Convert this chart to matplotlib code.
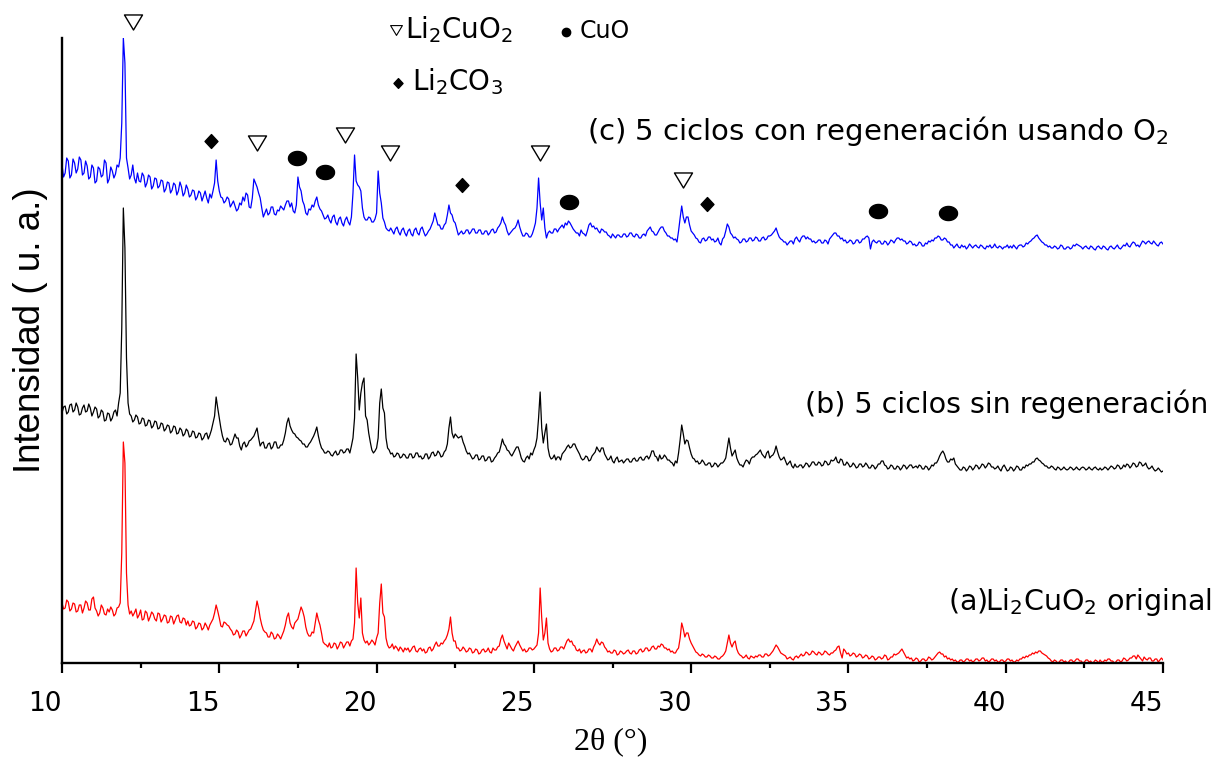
import numpy as np
import matplotlib
matplotlib.use("Agg")
import matplotlib.pyplot as plt
from matplotlib.path import Path

plt.rcParams['font.family'] = ['DejaVu Sans']
plt.rcParams['mathtext.fontset'] = 'custom'
plt.rcParams['mathtext.rm'] = 'DejaVu Sans'
plt.rcParams['mathtext.default'] = 'regular'

# 2-theta scan grid (degrees), 0.05 deg step
two_theta = np.round(np.arange(10.0, 45.0001, 0.05), 2)

# (a) pristine Li2CuO2, one row per 0.5 deg
int_a = [
    60, 54, 55, 63, 61, 52, 54, 60, 59, 51,
    52, 58, 58, 50, 55, 62, 60, 53, 53, 64,
    66, 55, 52, 47, 50, 58, 55, 49, 48, 54,
    51, 56, 53, 47, 49, 55, 56, 60, 110, 221,
    200, 90, 58, 49, 52, 47, 50, 54, 45, 48,
    53, 43, 44, 52, 50, 42, 46, 51, 49, 44,
    42, 50, 49, 41, 44, 48, 47, 40, 41, 47,
    46, 39, 43, 47, 48, 41, 40, 45, 44, 38,
    42, 37, 38, 42, 41, 34, 36, 40, 39, 33,
    35, 40, 37, 33, 38, 41, 44, 50, 58, 52,
    45, 37, 36, 41, 40, 38, 37, 34, 32, 28,
    29, 33, 31, 25, 28, 32, 32, 27, 30, 33,
    34, 38, 42, 52, 62, 55, 45, 38, 33, 31,
    30, 26, 26, 31, 29, 24, 25, 29, 27, 24,
    28, 32, 38, 46, 50, 40, 36, 34, 40, 42,
    44, 50, 56, 52, 46, 36, 30, 27, 27, 31,
    30, 40, 50, 43, 38, 30, 21, 19, 18, 16,
    20, 15, 16, 20, 19, 14, 17, 21, 20, 15,
    18, 21, 21, 17, 22, 24, 40, 95, 60, 45,
    65, 30, 23, 20, 22, 18, 20, 23, 21, 18,
    25, 30, 60, 79, 50, 46, 25, 18, 15, 16,
    19, 14, 17, 15, 12, 16, 14, 11, 15, 13,
    15, 11, 13, 16, 17, 12, 11, 14, 15, 12,
    14, 10, 11, 15, 16, 12, 14, 18, 21, 17,
    17, 20, 19, 22, 24, 28, 34, 46, 30, 22,
    22, 15, 15, 12, 13, 16, 14, 11, 12, 15,
    14, 10, 11, 14, 13, 9, 10, 13, 14, 11,
    12, 15, 11, 10, 15, 13, 13, 16, 17, 24,
    28, 22, 18, 14, 20, 17, 14, 12, 16, 19,
    22, 18, 15, 12, 14, 11, 12, 15, 15, 13,
    14, 16, 18, 30, 75, 45, 23, 30, 45, 20,
    14, 11, 12, 15, 15, 12, 13, 16, 16, 14,
    18, 22, 24, 21, 22, 18, 17, 13, 12, 14,
    10, 12, 13, 10, 11, 14, 14, 11, 16, 19,
    24, 20, 18, 21, 20, 16, 14, 11, 12, 10,
    10, 13, 12, 8, 9, 12, 11, 9, 10, 12,
    13, 10, 9, 12, 12, 9, 10, 13, 14, 11,
    12, 15, 15, 12, 13, 16, 17, 14, 14, 17,
    16, 19, 18, 15, 15, 13, 14, 11, 12, 10,
    10, 13, 15, 25, 40, 34, 26, 30, 30, 24,
    20, 17, 14, 11, 10, 8, 7, 9, 8, 6,
    6, 8, 7, 5, 5, 7, 6, 4, 4, 6,
    7, 9, 12, 20, 28, 20, 16, 20, 22, 14,
    10, 8, 7, 5, 6, 8, 5, 4, 7, 6,
    5, 7, 6, 8, 8, 6, 6, 9, 9, 7,
    8, 10, 12, 15, 18, 16, 13, 10, 9, 8,
    7, 4, 5, 6, 4, 3, 6, 7, 5, 7,
    9, 7, 8, 11, 10, 8, 9, 12, 11, 9,
    8, 11, 10, 8, 9, 12, 11, 9, 8, 10,
    10, 12, 13, 16, 17, 10, 5, 14, 12, 9,
    10, 7, 8, 10, 9, 6, 7, 9, 8, 5,
    6, 8, 7, 4, 5, 7, 6, 3, 4, 6,
    6, 4, 5, 8, 7, 3, 4, 6, 6, 9,
    8, 9, 10, 12, 14, 11, 8, 5, 6, 4,
    5, 2, 3, 5, 4, 1, 2, 4, 4, 2,
    3, 6, 5, 3, 4, 6, 8, 10, 11, 9,
    9, 6, 7, 4, 5, 3, 4, 2, 3, 1,
    1, 3, 3, 1, 2, 4, 4, 2, 3, 1,
    2, 4, 4, 2, 3, 5, 5, 2, 3, 1,
    2, 4, 4, 2, 3, 1, 1, 3, 3, 1,
    2, 4, 4, 2, 3, 1, 1, 3, 2, 4,
    4, 6, 5, 7, 6, 8, 8, 10, 9, 11,
    10, 12, 12, 10, 9, 8, 7, 5, 4, 2,
    1, 3, 2, 0, 1, 3, 3, 1, 2, 0,
    1, 3, 3, 1, 2, 4, 4, 2, 2, 0,
    1, 3, 3, 1, 2, 0, 1, 3, 2, 0,
    3, 1, 1, 3, 2, 4, 4, 2, 2, 0,
    1, 3, 3, 1, 2, 5, 4, 2, 3, 5,
    5, 7, 7, 4, 8, 6, 4, 2, 6, 4,
    3, 5, 5, 2, 2, 4, 4, 1, 3, 5,
    3,
]

# (b) after 5 cycles without regeneration
int_b = [
    65, 71, 72, 64, 66, 73, 74, 66, 68, 75,
    71, 63, 64, 70, 73, 66, 67, 74, 70, 62,
    66, 71, 69, 60, 62, 68, 66, 57, 58, 65,
    64, 57, 60, 66, 68, 62, 75, 85, 150, 270,
    230, 120, 75, 64, 62, 56, 58, 63, 61, 54,
    55, 60, 59, 52, 53, 58, 57, 50, 52, 57,
    56, 49, 50, 55, 54, 47, 49, 53, 52, 45,
    47, 52, 51, 44, 45, 50, 48, 42, 44, 49,
    47, 41, 42, 47, 46, 40, 41, 45, 44, 38,
    40, 44, 45, 39, 43, 48, 55, 62, 81, 70,
    60, 50, 42, 37, 36, 40, 38, 33, 34, 39,
    44, 40, 40, 32, 28, 34, 36, 31, 33, 37,
    38, 40, 42, 46, 50, 40, 32, 35, 36, 30,
    30, 34, 35, 29, 31, 36, 36, 30, 30, 33,
    33, 38, 45, 55, 60, 52, 48, 45, 44, 41,
    40, 38, 37, 34, 34, 31, 31, 34, 36, 39,
    42, 46, 51, 42, 35, 30, 28, 25, 25, 27,
    26, 23, 22, 25, 27, 23, 24, 28, 28, 25,
    26, 29, 29, 25, 32, 40, 60, 124, 100, 68,
    85, 95, 100, 62, 58, 45, 36, 28, 25, 27,
    30, 40, 75, 89, 70, 65, 40, 30, 28, 24,
    25, 21, 22, 25, 24, 20, 21, 24, 23, 20,
    20, 24, 24, 20, 21, 25, 25, 21, 22, 19,
    20, 24, 24, 19, 21, 25, 26, 22, 23, 27,
    25, 21, 22, 26, 28, 34, 50, 61, 45, 40,
    44, 42, 40, 41, 42, 36, 32, 27, 24, 25,
    22, 19, 20, 23, 23, 18, 19, 22, 22, 17,
    18, 21, 21, 16, 17, 20, 22, 25, 26, 32,
    39, 34, 32, 28, 27, 24, 22, 25, 28, 31,
    31, 26, 20, 17, 16, 20, 22, 19, 25, 23,
    28, 32, 40, 60, 86, 50, 35, 45, 54, 30,
    22, 19, 20, 23, 18, 21, 21, 18, 24, 26,
    28, 31, 33, 30, 31, 34, 34, 30, 27, 24,
    20, 18, 19, 22, 21, 17, 18, 22, 24, 26,
    31, 28, 26, 30, 30, 24, 21, 18, 19, 22,
    17, 15, 19, 21, 16, 17, 18, 15, 17, 19,
    19, 16, 16, 19, 20, 17, 17, 20, 21, 18,
    18, 21, 22, 19, 22, 27, 27, 22, 21, 17,
    23, 19, 20, 23, 21, 18, 18, 16, 15, 12,
    17, 15, 25, 38, 53, 44, 34, 38, 37, 30,
    24, 20, 19, 16, 17, 14, 15, 18, 16, 13,
    13, 15, 15, 11, 12, 15, 14, 11, 13, 15,
    15, 17, 20, 30, 40, 30, 22, 25, 28, 20,
    16, 13, 13, 11, 15, 18, 17, 14, 19, 21,
    21, 23, 24, 26, 28, 24, 22, 20, 25, 27,
    20, 22, 23, 26, 32, 26, 21, 18, 19, 21,
    17, 13, 15, 17, 12, 10, 14, 11, 11, 13,
    13, 10, 12, 15, 14, 11, 13, 16, 16, 13,
    13, 16, 15, 12, 13, 17, 16, 13, 14, 18,
    17, 18, 21, 16, 15, 19, 18, 13, 13, 16,
    14, 11, 12, 15, 13, 10, 11, 14, 14, 11,
    12, 15, 13, 10, 10, 13, 12, 9, 11, 14,
    14, 17, 17, 13, 12, 9, 10, 13, 12, 9,
    9, 12, 11, 8, 10, 13, 12, 9, 11, 13,
    13, 10, 11, 12, 10, 13, 12, 9, 9, 12,
    11, 8, 10, 13, 12, 15, 15, 18, 22, 25,
    27, 24, 19, 16, 16, 19, 18, 20, 14, 12,
    10, 8, 8, 11, 10, 7, 9, 12, 11, 8,
    10, 13, 12, 9, 11, 14, 13, 10, 12, 15,
    14, 11, 11, 9, 10, 12, 9, 7, 11, 13,
    10, 7, 8, 11, 10, 7, 9, 12, 11, 8,
    8, 11, 10, 13, 12, 14, 14, 16, 16, 19,
    20, 18, 17, 15, 14, 12, 12, 10, 10, 12,
    11, 9, 8, 11, 10, 8, 9, 11, 9, 8,
    9, 11, 10, 8, 9, 11, 9, 8, 10, 11,
    10, 8, 9, 11, 9, 8, 10, 11, 9, 8,
    10, 8, 9, 11, 10, 8, 10, 12, 11, 9,
    10, 13, 12, 9, 10, 13, 11, 14, 13, 10,
    12, 15, 14, 11, 12, 16, 15, 12, 13, 15,
    11, 9, 10, 12, 9, 7, 8, 10, 8, 6,
    7,
]

# (c) after 5 cycles with O2 regeneration
int_c = [
    88, 76, 80, 95, 92, 75, 78, 94, 90, 80,
    84, 96, 93, 78, 80, 92, 87, 74, 76, 88,
    85, 70, 72, 86, 84, 76, 78, 93, 90, 70,
    74, 86, 82, 75, 79, 88, 86, 95, 130, 215,
    190, 95, 85, 74, 78, 88, 75, 70, 80, 72,
    71, 80, 77, 66, 70, 78, 76, 64, 67, 75,
    74, 65, 67, 73, 72, 61, 64, 71, 70, 60,
    63, 70, 68, 58, 62, 71, 66, 57, 60, 68,
    64, 56, 58, 63, 62, 53, 56, 62, 60, 52,
    57, 62, 55, 50, 59, 55, 62, 70, 93, 72,
    62, 56, 55, 50, 52, 56, 54, 46, 49, 52,
    47, 42, 44, 50, 48, 56, 52, 60, 58, 46,
    45, 55, 74, 70, 66, 60, 55, 45, 36, 40,
    44, 38, 40, 46, 46, 39, 38, 43, 42, 47,
    45, 43, 48, 52, 52, 46, 50, 42, 40, 48,
    76, 66, 62, 52, 48, 40, 38, 44, 43, 48,
    46, 52, 56, 48, 44, 42, 38, 34, 35, 38,
    33, 30, 36, 38, 31, 28, 34, 36, 30, 27,
    33, 36, 31, 28, 36, 60, 98, 72, 68, 66,
    62, 45, 36, 33, 33, 36, 35, 31, 31, 34,
    40, 82, 60, 50, 35, 31, 25, 23, 22, 25,
    22, 19, 24, 26, 21, 18, 23, 25, 20, 17,
    22, 24, 19, 17, 23, 25, 20, 18, 24, 26,
    21, 17, 19, 22, 24, 28, 32, 40, 34, 28,
    28, 24, 24, 28, 30, 38, 48, 40, 38, 32,
    30, 24, 18, 20, 22, 19, 20, 23, 23, 19,
    21, 24, 24, 20, 20, 23, 23, 19, 19, 22,
    22, 18, 20, 23, 24, 20, 21, 25, 27, 30,
    36, 31, 28, 22, 18, 20, 22, 24, 25, 28,
    33, 26, 21, 17, 17, 20, 19, 16, 16, 19,
    24, 30, 45, 75, 50, 33, 45, 25, 15, 20,
    22, 20, 20, 24, 24, 21, 24, 26, 28, 25,
    30, 28, 32, 30, 27, 24, 22, 20, 20, 17,
    23, 20, 19, 17, 22, 28, 30, 26, 27, 24,
    25, 22, 20, 24, 23, 21, 21, 18, 17, 15,
    19, 17, 15, 18, 18, 16, 16, 19, 19, 16,
    17, 20, 20, 17, 16, 19, 18, 15, 15, 18,
    19, 17, 22, 24, 26, 22, 21, 18, 18, 21,
    24, 26, 26, 22, 20, 17, 17, 15, 15, 13,
    14, 11, 22, 35, 47, 36, 30, 36, 36, 28,
    22, 20, 18, 15, 14, 11, 10, 14, 15, 12,
    13, 16, 16, 13, 14, 11, 12, 15, 10, 8,
    14, 16, 22, 29, 26, 20, 18, 15, 16, 14,
    13, 10, 11, 14, 14, 11, 12, 15, 15, 12,
    13, 16, 15, 12, 12, 15, 16, 13, 14, 17,
    17, 18, 20, 22, 25, 20, 16, 14, 13, 11,
    11, 8, 10, 12, 12, 9, 14, 16, 13, 11,
    15, 17, 17, 14, 16, 14, 14, 11, 12, 10,
    11, 13, 13, 10, 10, 13, 12, 9, 14, 16,
    18, 20, 20, 17, 17, 14, 15, 12, 13, 10,
    11, 13, 12, 9, 10, 13, 13, 10, 11, 14,
    14, 16, 17, 15, 4, 11, 13, 11, 10, 12,
    12, 9, 9, 12, 11, 8, 10, 13, 12, 10,
    13, 15, 15, 13, 14, 12, 12, 9, 10, 12,
    11, 8, 9, 7, 8, 11, 10, 7, 7, 10,
    9, 12, 11, 13, 12, 15, 15, 17, 16, 13,
    13, 15, 14, 11, 11, 8, 8, 5, 7, 9,
    6, 5, 8, 6, 7, 4, 6, 9, 7, 5,
    7, 8, 6, 5, 8, 7, 5, 4, 7, 6,
    8, 5, 6, 9, 6, 5, 7, 6, 4, 6,
    6, 8, 5, 7, 5, 8, 6, 4, 7, 8,
    8, 6, 7, 10, 9, 11, 12, 14, 15, 17,
    18, 15, 13, 11, 10, 8, 8, 6, 7, 5,
    5, 7, 6, 4, 5, 8, 7, 4, 4, 6,
    6, 4, 5, 8, 7, 9, 8, 7, 6, 4,
    6, 7, 5, 4, 7, 6, 4, 3, 6, 7,
    5, 4, 7, 6, 4, 3, 6, 7, 5, 4,
    6, 8, 5, 4, 6, 8, 7, 10, 7, 6,
    9, 11, 10, 7, 8, 6, 9, 12, 11, 9,
    11, 12, 10, 9, 12, 10, 8, 7, 10, 11,
    9,
]

for series in (int_a, int_b, int_c):
    if len(series) != len(two_theta):
        raise ValueError(f'{len(series)} values for {len(two_theta)} angles')

# vertical stacking offsets of the three patterns
offset_a, offset_b, offset_c = 0, 185, 410

# phase markers above pattern (c): 2-theta and height
li2cuo2_x = [12.26, 16.20, 19.00, 20.43, 25.19, 29.74]
li2cuo2_y = [641, 520, 528, 510, 510, 483]
cuo_x = [17.47, 18.36, 26.12, 35.94, 38.16]
cuo_y = [505, 491, 461, 452, 450]
li2co3_x = [14.74, 22.71, 30.50]
li2co3_y = [522, 478, 459]

tick_pos = [10, 15, 20, 25, 30, 35, 40, 45]
tick_labels = ['10', '15', '20', '25', '30', '35', '40', '45']

# marker shapes
tri_down = Path([(-0.6, 0.5), (0.6, 0.5), (0.0, -0.5), (-0.6, 0.5)],
                [Path.MOVETO, Path.LINETO, Path.LINETO, Path.CLOSEPOLY])
ang = np.linspace(0, 2 * np.pi, 60)
oval = Path(np.column_stack([np.cos(ang), 0.78 * np.sin(ang)]))
diamond = Path([(0, 1), (0.93, 0), (0, -1), (-0.93, 0), (0, 1)],
               [Path.MOVETO, Path.LINETO, Path.LINETO, Path.LINETO, Path.CLOSEPOLY])

fig = plt.figure(figsize=(12.15, 7.57), dpi=100)
ax = fig.add_axes([62 / 1215, 94 / 757, 1101 / 1215, 625 / 757])

ax.plot(two_theta, np.asarray(int_a) + offset_a, color='#ff0000', lw=0.9)
ax.plot(two_theta, np.asarray(int_b) + offset_b, color='black', lw=0.9)
ax.plot(two_theta, np.asarray(int_c) + offset_c, color='#0000ff', lw=0.9)

ax.plot(li2cuo2_x, li2cuo2_y, ls='none', marker=tri_down, ms=13, mfc='white',
        mec='black', mew=1.0, clip_on=False)
ax.plot(cuo_x, cuo_y, ls='none', marker=oval, ms=13, mfc='black', mec='black',
        clip_on=False)
ax.plot(li2co3_x, li2co3_y, ls='none', marker=diamond, ms=10, mfc='black',
        mec='black', clip_on=False)

# key for the phase symbols
ax.plot([20.62], [633], ls='none', marker=tri_down, ms=8.5, mfc='white',
        mec='black', mew=0.8, clip_on=False)
ax.text(20.90, 625, 'Li$_2$CuO$_2$', fontsize=20, va='baseline', ha='left')
ax.plot([26.02], [631], ls='none', marker='o', ms=6, mfc='black', mec='black',
        clip_on=False)
ax.text(26.47, 625, 'CuO', fontsize=17, va='baseline', ha='left')
ax.plot([20.68], [580], ls='none', marker=diamond, ms=7, mfc='black',
        mec='black', clip_on=False)
ax.text(21.12, 573, 'Li$_2$CO$_3$', fontsize=20, va='baseline', ha='left')

# pattern labels
ax.text(26.69, 523, '(c) 5 ciclos con regeneración usando O$_2$', fontsize=21,
        va='baseline', ha='left')
ax.text(33.62, 250, '(b) 5 ciclos sin regeneración', fontsize=20.5,
        va='baseline', ha='left')
ax.text(38.16, 53, '(a)Li$_2$CuO$_2$ original', fontsize=20.5,
        va='baseline', ha='left')

ax.set_xlim(10, 45)
ax.set_ylim(0, 625)
ax.set_xticks(tick_pos)
ax.set_xticklabels(tick_labels, ha='right')
ax.set_xticks([12.5, 17.5, 22.5, 27.5, 32.5, 37.5, 42.5], minor=True)
ax.set_yticks([])
ax.tick_params(axis='x', which='major', direction='out', length=7.5, width=1.6,
               labelsize=19, pad=12.5)
ax.tick_params(axis='x', which='minor', direction='out', length=3.8, width=1.6)
for side in ('top', 'right'):
    ax.spines[side].set_visible(False)
for side in ('left', 'bottom'):
    ax.spines[side].set_linewidth(1.7)

ax.set_xlabel('2θ (°)', fontsize=23, family='Liberation Serif', va='center')
ax.xaxis.set_label_coords(0.4986, -0.1264)
ax.set_ylabel('Intensidad ( u. a.)', fontsize=26.5, family='Liberation Sans',
              va='center')
ax.yaxis.set_label_coords(-0.029, 0.533)

fig.savefig('out.png', dpi=100, facecolor='white')
